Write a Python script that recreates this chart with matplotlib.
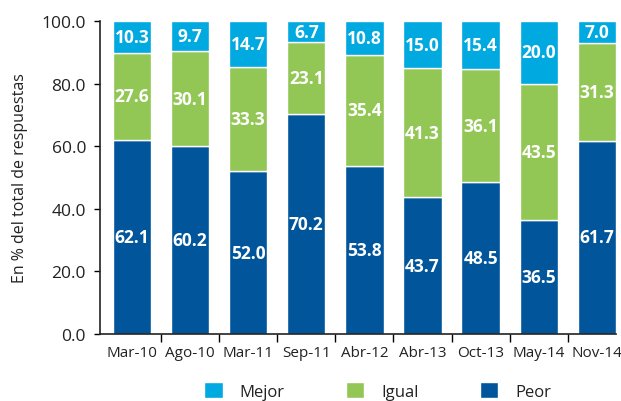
import matplotlib

matplotlib.use("Agg")
import matplotlib.pyplot as plt
import numpy as np

plt.rcParams["font.family"] = ["Open Sans", "DejaVu Sans"]

categories = ["Mar-10", "Ago-10", "Mar-11", "Sep-11", "Abr-12",
              "Abr-13", "Oct-13", "May-14", "Nov-14"]
peor = [62.1, 60.2, 52.0, 70.2, 53.8, 43.7, 48.5, 36.5, 61.7]
igual = [27.6, 30.1, 33.3, 23.1, 35.4, 41.3, 36.1, 43.5, 31.3]
mejor = [10.3, 9.7, 14.7, 6.7, 10.8, 15.0, 15.4, 20.0, 7.0]

C_PEOR = "#00559B"
C_IGUAL = "#92C755"
C_MEJOR = "#00A9E0"

fig = plt.figure(figsize=(6.21, 4.02), dpi=100)
ax = fig.add_axes([0.161, 0.167, 0.831, 0.778])

x = np.arange(len(categories))
w = 0.66
peor = np.array(peor)
igual = np.array(igual)
mejor = np.array(mejor)

series = [
    ("Peor", peor, np.zeros_like(peor), C_PEOR),
    ("Igual", igual, peor, C_IGUAL),
    ("Mejor", mejor, peor + igual, C_MEJOR),
]
handles = {}
for name, vals, bottom, col in series:
    bars = ax.bar(x, vals, w, bottom=bottom, color=col, edgecolor="white",
                  linewidth=1.0, label=name)
    handles[name] = bars
    for xi, v, b in zip(x, vals, bottom):
        ax.text(xi, b + v / 2, f"{v:.1f}", ha="center", va="center",
                color="white", fontsize=12.5, fontweight="bold")

ax.set_xlim(-0.55, 8.33)
ax.set_ylim(0, 100)
ax.set_yticks(np.arange(0, 101, 20))
ax.set_yticklabels([f"{v:.1f}" for v in np.arange(0, 101, 20)], fontsize=12.5,
                   color="#222222")
ax.set_xticks(x)
ax.set_xticklabels(categories, fontsize=11, color="#222222")
ax.set_xticks(np.arange(0.5, len(categories) - 1, 1), minor=True)
ax.tick_params(axis="x", which="major", length=0, pad=8)
ax.tick_params(axis="x", which="minor", length=6, width=1, direction="out")
ax.tick_params(axis="y", length=4, width=1, direction="out", pad=6)

for s in ["top", "right"]:
    ax.spines[s].set_visible(False)
for s in ["left", "bottom"]:
    ax.spines[s].set_linewidth(1.2)
    ax.spines[s].set_color("#222222")

ax.set_ylabel("En % del total de respuestas", fontsize=11.5, color="#222222",
              labelpad=10)

leg = fig.legend([handles["Mejor"], handles["Igual"], handles["Peor"]],
                 ["Mejor", "Igual", "Peor"], loc="lower center",
                 bbox_to_anchor=(0.608, -0.035), ncol=3, frameon=False,
                 fontsize=12, handlelength=1.1, handleheight=1.1,
                 columnspacing=3.7, handletextpad=1.0)
for t in leg.get_texts():
    t.set_color("#222222")

fig.savefig("out.png", dpi=100)
